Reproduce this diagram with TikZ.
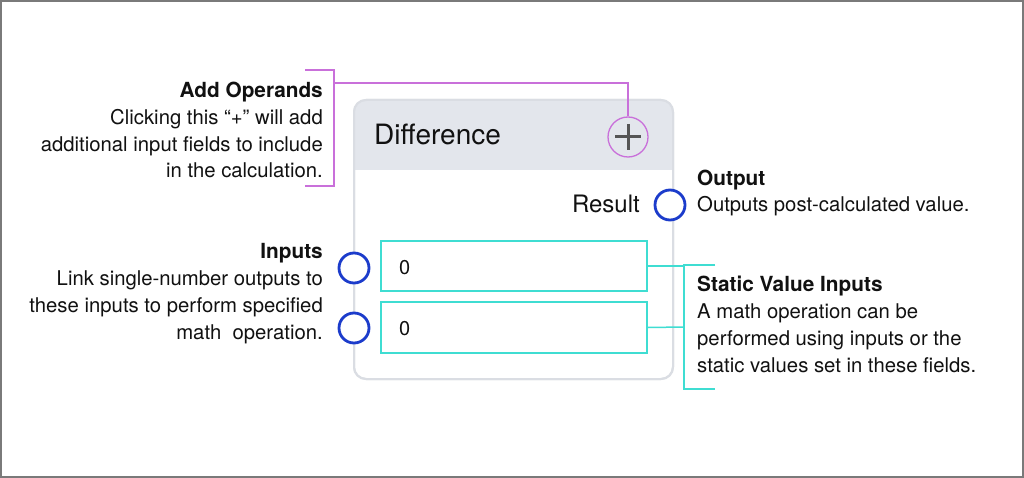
\documentclass[tikz,border=0pt]{standalone}
\usepackage{fontspec}
\setmainfont{TeX Gyre Heros}
\definecolor{framegray}{HTML}{7A7A7A}
\definecolor{cardline}{HTML}{DADDE3}
\definecolor{headfill}{HTML}{E3E6EC}
\definecolor{magline}{HTML}{C970DA}
\definecolor{cyanline}{HTML}{3FDDD2}
\definecolor{portblue}{HTML}{1C3CCB}
\definecolor{plusgray}{HTML}{555555}
\definecolor{txt}{HTML}{111111}
\newcommand{\hd}[1]{{\fontsize{20.8}{26.7}\selectfont\bfseries #1}}
\tikzset{
  port/.style={circle, draw=portblue, line width=2.8pt, fill=white, minimum size=30pt, inner sep=0pt},
  valbox/.style={rectangle, draw=cyanline, line width=1.8pt, fill=white, minimum width=266pt, inner sep=0pt},
  magconn/.style={draw=magline, line width=1.3pt},
  cyanconn/.style={draw=cyanline, line width=1.5pt},
  label/.style={inner sep=0pt, text=txt, font=\fontsize{20.3}{26.7}\selectfont},
  valtext/.style={inner sep=0pt, text=txt, font=\fontsize{20}{24}\selectfont, anchor=west},
}
\begin{document}
\begin{tikzpicture}[x=1pt,y=-1pt]
\useasboundingbox (0,0) rectangle (1024,478);
\fill[white] (0,0) rectangle (1024,478);
\draw[framegray, line width=2pt] (1,1) rectangle (1023,477);

% card
\node[draw=cardline, line width=2pt, fill=white, rounded corners=12pt,
      minimum width=319pt, minimum height=279pt, inner sep=0pt] (card) at (513.5,239.5) {};
\begin{scope}
  \clip[rounded corners=12pt] (354,100) rectangle (673,379);
  \fill[headfill] (354,100) rectangle (673,170);
\end{scope}
\draw[cardline, line width=2pt, rounded corners=12pt] (354,100) rectangle (673,379);

\node[inner sep=0pt, anchor=base west, text=txt, font=\fontsize{28}{30}\selectfont] (title) at (374,145) {Difference};

% plus button
\node[circle, draw=magline, line width=1.3pt, minimum size=40pt, inner sep=0pt] (plus) at (628,137) {};
\draw[plusgray, line width=3pt] (615,137) -- (641,137) (628,124) -- (628,150);

% result
\node[inner sep=0pt, anchor=base east, text=txt, font=\fontsize{24}{26}\selectfont] (result) at (640,213) {Result};
\node[port] (out) at (670,205) {};

% value boxes
\node[valbox, minimum height=50pt] (in1) at (514,266) {};
\node[valbox, minimum height=51pt] (in2) at (514,327.5) {};
\node[valtext] (v1) at (399,268) {0};
\node[valtext] (v2) at (399,329) {0};

% input ports
\node[port] (ic1) at (354,268) {};
\node[port] (ic2) at (354,328) {};

% magenta callout
\coordinate (mtop) at (334,83);
\coordinate (mb1) at (305,70);
\coordinate (mb2) at (334,70);
\coordinate (mb3) at (334,186);
\coordinate (mb4) at (305,186);
\draw[magconn] (plus.north) |- (mtop);
\draw[magconn] (mb1) -- (mb2) -- (mb3) -- (mb4);

% cyan callout
\coordinate (cj1) at (684,266);
\coordinate (cj2) at (684,327);
\coordinate (cb1) at (715,265);
\coordinate (cb2) at (684,265);
\coordinate (cb3) at (684,389);
\coordinate (cb4) at (715,389);
\draw[cyanconn] (in1.east) -- (cj1);
\draw[cyanconn] (in2.east) -- (cj2);
\draw[cyanconn] (cb1) -- (cb2) -- (cb3) -- (cb4);

% labels (base anchor = last line baseline)
\node[label, anchor=base east, align=right] (addop) at (323,178)
  {\hd{Add Operands}\\Clicking this “+” will add\\additional input fields to include\\in the calculation.};
\node[label, anchor=base east, align=right] (inputs) at (323,339)
  {\hd{Inputs}\\Link single-number outputs to\\these inputs to perform specified\\math\ \ operation.};
\node[label, anchor=base west, align=left] (output) at (697,212)
  {\hd{Output}\\Outputs post-calculated value.};
\node[label, anchor=base west, align=left] (static) at (697,372)
  {\hd{Static Value Inputs}\\A math operation can be\\performed using inputs or the\\static values set in these fields.};
\end{tikzpicture}
\end{document}
